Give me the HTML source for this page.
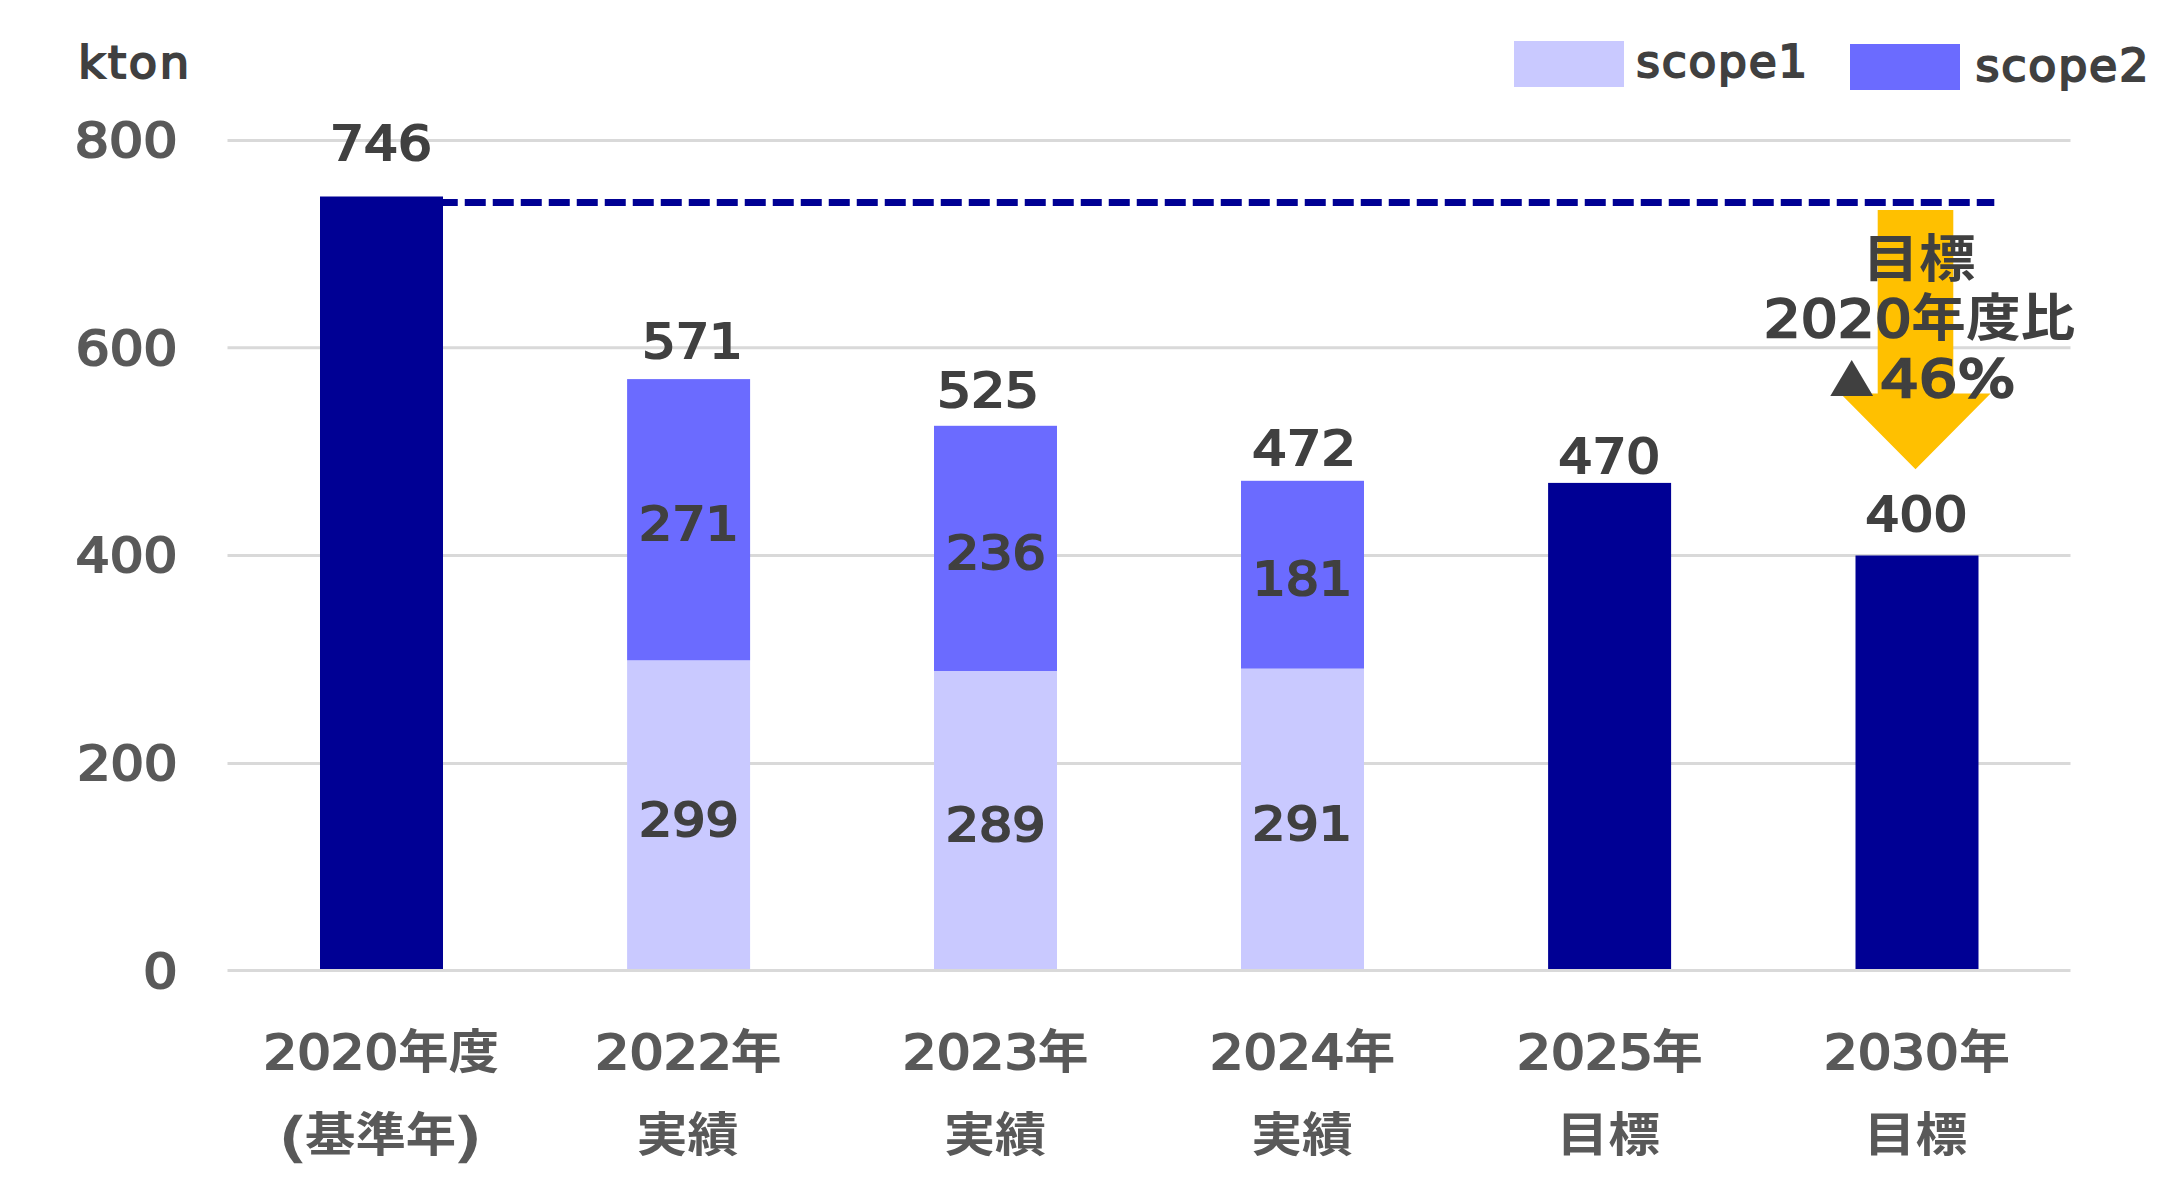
<!DOCTYPE html>
<html lang="ja"><head><meta charset="utf-8"><title>CO2 emissions chart</title>
<style>html,body{margin:0;padding:0;background:#fff}svg{display:block}</style></head>
<body>
<svg width="2181" height="1191" viewBox="0 0 2181 1191">
<rect width="2181" height="1191" fill="#fff"/>
<g stroke="#D9D9D9" stroke-width="3">
<line x1="227.5" x2="2070.5" y1="140.5" y2="140.5"/>
<line x1="227.5" x2="2070.5" y1="347.8" y2="347.8"/>
<line x1="227.5" x2="2070.5" y1="555.6" y2="555.6"/>
<line x1="227.5" x2="2070.5" y1="763.5" y2="763.5"/>
</g>
<line x1="436.75" x2="1994.3" y1="202.6" y2="202.6" stroke="#000094" stroke-width="7" stroke-dasharray="21 7"/>
<rect x="320.0" y="196.5" width="123.0" height="772.5" fill="#000094"/>
<rect x="627.1" y="660.3" width="123.0" height="308.7" fill="#C9C9FF"/>
<rect x="627.1" y="379.1" width="123.0" height="281.2" fill="#6B6BFF"/>
<rect x="934.0" y="671.0" width="123.0" height="298.0" fill="#C9C9FF"/>
<rect x="934.0" y="425.8" width="123.0" height="245.2" fill="#6B6BFF"/>
<rect x="1241.0" y="668.6" width="123.0" height="300.4" fill="#C9C9FF"/>
<rect x="1241.0" y="480.8" width="123.0" height="187.8" fill="#6B6BFF"/>
<rect x="1548.1" y="482.9" width="123.0" height="486.1" fill="#000094"/>
<rect x="1855.5" y="555.5" width="123.0" height="413.5" fill="#000094"/>
<line x1="227.5" x2="2070.5" y1="970.5" y2="970.5" stroke="#D9D9D9" stroke-width="3"/>
<rect x="1514" y="41" width="110" height="46" fill="#C9C9FF"/>
<rect x="1850" y="44" width="110" height="46" fill="#6B6BFF"/>
<polygon points="1877.7,210 1953.3,210 1953.3,393.5 1990.6,393.5 1915.5,469.2 1840.4,393.5 1877.7,393.5" fill="#FFC000"/>
<text transform="matrix(0.5342 0 0 0.4750 330.00 159.67)" font-size="100" font-family='"DejaVu Sans","Liberation Sans",sans-serif' fill="#404040" font-weight="normal" stroke="#404040" stroke-width="4.6">746</text>
<text transform="matrix(0.5255 0 0 0.4742 642.35 357.91)" font-size="100" font-family='"DejaVu Sans","Liberation Sans",sans-serif' fill="#404040" font-weight="normal" stroke="#404040" stroke-width="4.6">571</text>
<text transform="matrix(0.5331 0 0 0.4742 937.30 406.91)" font-size="100" font-family='"DejaVu Sans","Liberation Sans",sans-serif' fill="#404040" font-weight="normal" stroke="#404040" stroke-width="4.6">525</text>
<text transform="matrix(0.5433 0 0 0.4748 1252.29 464.81)" font-size="100" font-family='"DejaVu Sans","Liberation Sans",sans-serif' fill="#404040" font-weight="normal" stroke="#404040" stroke-width="4.6">472</text>
<text transform="matrix(0.5332 0 0 0.4748 1558.52 472.81)" font-size="100" font-family='"DejaVu Sans","Liberation Sans",sans-serif' fill="#404040" font-weight="normal" stroke="#404040" stroke-width="4.6">470</text>
<text transform="matrix(0.5334 0 0 0.4748 1865.62 530.81)" font-size="100" font-family='"DejaVu Sans","Liberation Sans",sans-serif' fill="#404040" font-weight="normal" stroke="#404040" stroke-width="4.6">400</text>
<text transform="matrix(0.5230 0 0 0.4658 638.90 540.32)" font-size="100" font-family='"DejaVu Sans","Liberation Sans",sans-serif' fill="#404040" font-weight="normal" stroke="#404040" stroke-width="4.6">271</text>
<text transform="matrix(0.5230 0 0 0.4658 945.89 568.86)" font-size="100" font-family='"DejaVu Sans","Liberation Sans",sans-serif' fill="#404040" font-weight="normal" stroke="#404040" stroke-width="4.6">236</text>
<text transform="matrix(0.5230 0 0 0.4658 1252.58 595.31)" font-size="100" font-family='"DejaVu Sans","Liberation Sans",sans-serif' fill="#404040" font-weight="normal" stroke="#404040" stroke-width="4.6">181</text>
<text transform="matrix(0.5230 0 0 0.4658 638.92 836.01)" font-size="100" font-family='"DejaVu Sans","Liberation Sans",sans-serif' fill="#404040" font-weight="normal" stroke="#404040" stroke-width="4.6">299</text>
<text transform="matrix(0.5230 0 0 0.4658 945.77 841.20)" font-size="100" font-family='"DejaVu Sans","Liberation Sans",sans-serif' fill="#404040" font-weight="normal" stroke="#404040" stroke-width="4.6">289</text>
<text transform="matrix(0.5230 0 0 0.4658 1252.15 840.16)" font-size="100" font-family='"DejaVu Sans","Liberation Sans",sans-serif' fill="#404040" font-weight="normal" stroke="#404040" stroke-width="4.6">291</text>
<text transform="matrix(0.5386 0 0 0.4820 74.65 157.28)" font-size="100" font-family='"DejaVu Sans","Liberation Sans",sans-serif' fill="#595959" font-weight="normal" stroke="#595959" stroke-width="4.6">800</text>
<text transform="matrix(0.5321 0 0 0.4820 75.86 364.58)" font-size="100" font-family='"DejaVu Sans","Liberation Sans",sans-serif' fill="#595959" font-weight="normal" stroke="#595959" stroke-width="4.6">600</text>
<text transform="matrix(0.5321 0 0 0.4820 75.86 572.38)" font-size="100" font-family='"DejaVu Sans","Liberation Sans",sans-serif' fill="#595959" font-weight="normal" stroke="#595959" stroke-width="4.6">400</text>
<text transform="matrix(0.5251 0 0 0.4820 77.16 780.28)" font-size="100" font-family='"DejaVu Sans","Liberation Sans",sans-serif' fill="#595959" font-weight="normal" stroke="#595959" stroke-width="4.6">200</text>
<text transform="matrix(0.5386 0 0 0.4820 143.18 987.87)" font-size="100" font-family='"DejaVu Sans","Liberation Sans",sans-serif' fill="#595959" font-weight="normal" stroke="#595959" stroke-width="4.6">0</text>
<text transform="matrix(0.4624 0 0 0.4393 78.37 77.78)" font-size="100" font-family='"DejaVu Sans","Liberation Sans",sans-serif' fill="#404040" font-weight="normal" stroke="#404040" stroke-width="4.6" letter-spacing="6">kton</text>
<text transform="matrix(0.4540 0 0 0.4385 1636.17 76.64)" font-size="100" font-family='"DejaVu Sans","Liberation Sans",sans-serif' fill="#404040" font-weight="normal" stroke="#404040" stroke-width="4.6" letter-spacing="4">scope1</text>
<text transform="matrix(0.4591 0 0 0.4392 1975.41 80.59)" font-size="100" font-family='"DejaVu Sans","Liberation Sans",sans-serif' fill="#404040" font-weight="normal" stroke="#404040" stroke-width="4.6" letter-spacing="4">scope2</text>
<text transform="matrix(0.5298 0 0 0.4785 263.45 1068.85)" font-size="100" font-family='"DejaVu Sans","Liberation Sans",sans-serif' fill="#595959" font-weight="normal" stroke="#595959" stroke-width="4.6">2020</text>
<text transform="matrix(0.5057 0 0 0.4703 398.02 1067.65)" font-size="100" font-family='"Liberation Sans","Noto Sans CJK JP",sans-serif' fill="#595959" font-weight="bold">年度</text>
<text transform="matrix(0.6588 0 0 0.5208 279.74 1155.06)" font-size="100" font-family='"DejaVu Sans","Liberation Sans",sans-serif' fill="#595959" font-weight="normal" stroke="#595959" stroke-width="4.6">(</text>
<text transform="matrix(0.5034 0 0 0.4670 305.11 1150.97)" font-size="100" font-family='"Liberation Sans","Noto Sans CJK JP",sans-serif' fill="#595959" font-weight="bold">基準年</text>
<text transform="matrix(0.6587 0 0 0.5208 455.17 1155.06)" font-size="100" font-family='"DejaVu Sans","Liberation Sans",sans-serif' fill="#595959" font-weight="normal" stroke="#595959" stroke-width="4.6">)</text>
<text transform="matrix(0.5372 0 0 0.4786 595.31 1068.85)" font-size="100" font-family='"DejaVu Sans","Liberation Sans",sans-serif' fill="#595959" font-weight="normal" stroke="#595959" stroke-width="4.6">2022</text>
<text transform="matrix(0.5104 0 0 0.4712 730.40 1067.73)" font-size="100" font-family='"Liberation Sans","Noto Sans CJK JP",sans-serif' fill="#595959" font-weight="bold">年</text>
<text transform="matrix(0.5105 0 0 0.4700 636.53 1150.63)" font-size="100" font-family='"Liberation Sans","Noto Sans CJK JP",sans-serif' fill="#595959" font-weight="bold">実績</text>
<text transform="matrix(0.5328 0 0 0.4786 902.84 1068.85)" font-size="100" font-family='"DejaVu Sans","Liberation Sans",sans-serif' fill="#595959" font-weight="normal" stroke="#595959" stroke-width="4.6">2023</text>
<text transform="matrix(0.5104 0 0 0.4712 1037.60 1067.73)" font-size="100" font-family='"Liberation Sans","Noto Sans CJK JP",sans-serif' fill="#595959" font-weight="bold">年</text>
<text transform="matrix(0.5110 0 0 0.4700 943.93 1150.63)" font-size="100" font-family='"Liberation Sans","Noto Sans CJK JP",sans-serif' fill="#595959" font-weight="bold">実績</text>
<text transform="matrix(0.5275 0 0 0.4786 1210.06 1068.85)" font-size="100" font-family='"DejaVu Sans","Liberation Sans",sans-serif' fill="#595959" font-weight="normal" stroke="#595959" stroke-width="4.6">2024</text>
<text transform="matrix(0.5104 0 0 0.4712 1344.20 1067.73)" font-size="100" font-family='"Liberation Sans","Noto Sans CJK JP",sans-serif' fill="#595959" font-weight="bold">年</text>
<text transform="matrix(0.5084 0 0 0.4700 1251.14 1150.63)" font-size="100" font-family='"Liberation Sans","Noto Sans CJK JP",sans-serif' fill="#595959" font-weight="bold">実績</text>
<text transform="matrix(0.5344 0 0 0.4786 1517.03 1068.85)" font-size="100" font-family='"DejaVu Sans","Liberation Sans",sans-serif' fill="#595959" font-weight="normal" stroke="#595959" stroke-width="4.6">2025</text>
<text transform="matrix(0.5104 0 0 0.4712 1651.70 1067.73)" font-size="100" font-family='"Liberation Sans","Noto Sans CJK JP",sans-serif' fill="#595959" font-weight="bold">年</text>
<text transform="matrix(0.5176 0 0 0.4706 1556.50 1150.68)" font-size="100" font-family='"Liberation Sans","Noto Sans CJK JP",sans-serif' fill="#595959" font-weight="bold">目標</text>
<text transform="matrix(0.5298 0 0 0.4785 1823.95 1068.85)" font-size="100" font-family='"DejaVu Sans","Liberation Sans",sans-serif' fill="#595959" font-weight="normal" stroke="#595959" stroke-width="4.6">2030</text>
<text transform="matrix(0.5104 0 0 0.4712 1958.90 1067.73)" font-size="100" font-family='"Liberation Sans","Noto Sans CJK JP",sans-serif' fill="#595959" font-weight="bold">年</text>
<text transform="matrix(0.5176 0 0 0.4706 1863.70 1150.68)" font-size="100" font-family='"Liberation Sans","Noto Sans CJK JP",sans-serif' fill="#595959" font-weight="bold">目標</text>
<text transform="matrix(0.5645 0 0 0.5085 1862.53 276.97)" font-size="100" font-family='"Liberation Sans","Noto Sans CJK JP",sans-serif' fill="#404040" font-weight="bold">目標</text>
<text transform="matrix(0.5820 0 0 0.5134 1763.69 336.53)" font-size="100" font-family='"DejaVu Sans","Liberation Sans",sans-serif' fill="#404040" font-weight="normal" stroke="#404040" stroke-width="4.6">2020</text>
<text transform="matrix(0.5460 0 0 0.5154 1911.36 336.21)" font-size="100" font-family='"Liberation Sans","Noto Sans CJK JP",sans-serif' fill="#404040" font-weight="bold">年度比</text>
<text transform="matrix(0.7316 0 0 0.6159 1815.59 396.00)" font-size="100" font-family='"Liberation Sans","Noto Sans CJK JP",sans-serif' fill="#404040" font-weight="bold">▲</text>
<text transform="matrix(0.6090 0 0 0.5118 1879.92 396.54)" font-size="100" font-family='"DejaVu Sans","Liberation Sans",sans-serif' fill="#404040" font-weight="normal" stroke="#404040" stroke-width="4.6">46%</text>
</svg>
</body></html>
